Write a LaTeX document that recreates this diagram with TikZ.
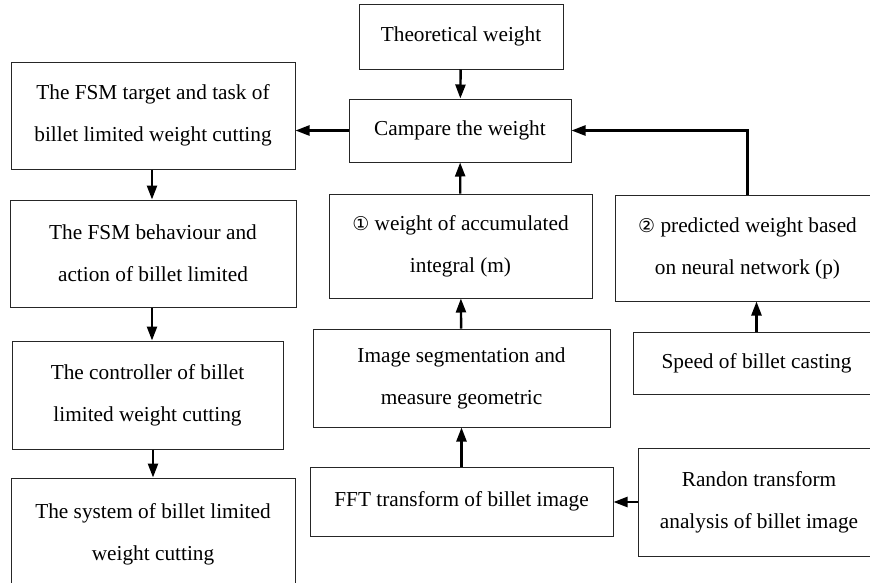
\documentclass[tikz,border=0pt]{standalone}
\usepackage{fontspec}
\setmainfont{Liberation Serif}
\newfontfamily\circfont{DejaVu Sans}
\usepackage{tikz}
\usetikzlibrary{arrows.meta, positioning}
\usetikzlibrary{calc}

\begin{document}
\begin{tikzpicture}[x=1pt, y=-1pt,
		wbox/.style={draw=black!85, line width=1pt, align=center, inner sep=0pt,
			font=\fontsize{21.3}{42}\selectfont},
		flow/.style={line width=2.4pt, -{Triangle[length=14pt,width=10pt]}}]
		\useasboundingbox (0,0) rectangle (870,582);
		\draw (461,36.5) node[wbox, minimum width=204, minimum height=65] (theo) {Theoretical weight}
		(460,130.5) node[wbox, minimum width=222, minimum height=63] (comp) {Campare the weight}
		(153,115.5) node[wbox, minimum width=284, minimum height=107] (target) {The FSM target and task of\\billet limited weight cutting}
		(153,253.5) node[wbox, minimum width=286, minimum height=107] (behav) {The FSM behaviour and\\action of billet limited}
		(147.5,395) node[wbox, minimum width=271, minimum height=108] (ctrl) {The controller of billet\\limited weight cutting}
		(153,534) node[wbox, minimum width=284, minimum height=112] (sys) {The system of billet limited\\weight cutting}
		(460.5,246) node[wbox, minimum width=263, minimum height=104] (accum) {{\circfont\fontsize{19}{42}\selectfont ①} weight of accumulated\\integral (m)}
		(461.5,378) node[wbox, minimum width=297, minimum height=98] (seg) {Image segmentation and\\measure geometric}
		(461.5,501.5) node[wbox, minimum width=303, minimum height=69] (fft) {FFT transform of billet image}
		(747.5,248) node[wbox, minimum width=265, minimum height=106] (pred) {{\circfont\fontsize{19}{42}\selectfont ②} predicted weight based\\on neural network (p)}
		(756.5,363) node[wbox, minimum width=247, minimum height=62] (speed) {Speed of billet casting}
		(759,502) node[wbox, minimum width=242, minimum height=108] (randon) {Randon transform\\analysis of billet image};

		\draw[flow] (theo) -- (comp);
		\draw[flow] (comp.west) -- (comp.west -| target.east);
		\draw[flow] (accum) -- (comp);
		\draw[flow] (seg) -- (accum);
		\draw[flow] (fft) -- (seg);
		\draw[flow] (randon.west) -- (randon.west -| fft.east);
		\draw[flow] (speed.north) -- (speed.north |- pred.south);
		\draw[flow] (pred.north) |- (comp.east);
		\draw[flow] (target.south -| 152,0) -- (behav.north -| 152,0);
		\draw[flow] (behav.south -| 152,0) -- (ctrl.north -| 152,0);
		\draw[flow] (ctrl.south -| 153,0) -- (sys.north -| 153,0);
	\end{tikzpicture}
\end{document}
